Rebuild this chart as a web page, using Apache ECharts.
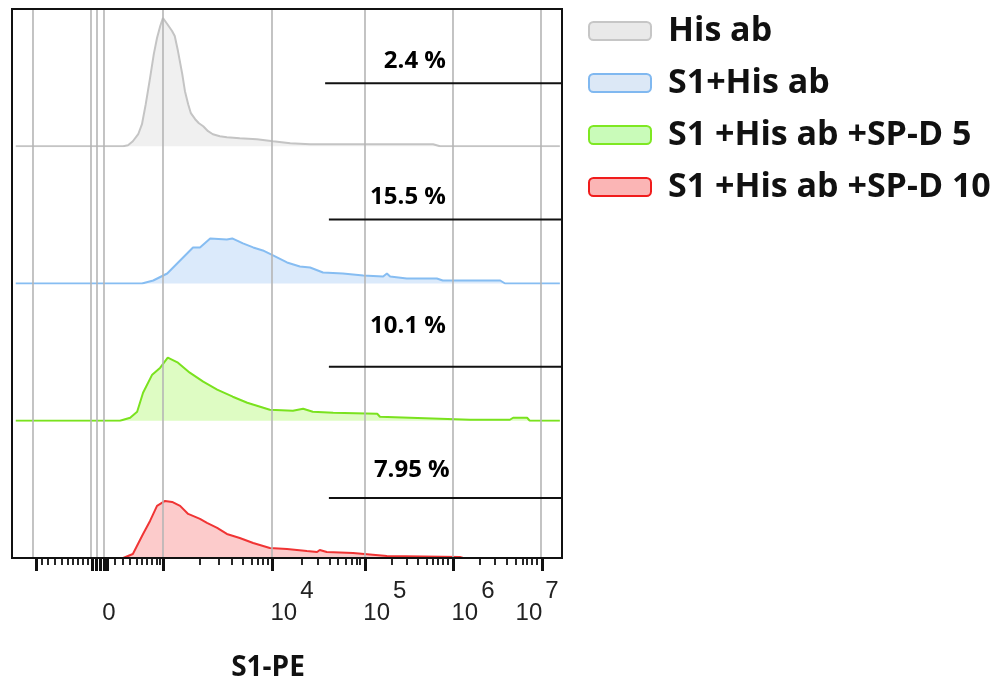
<!DOCTYPE html>
<html>
<head>
<meta charset="utf-8">
<script src="https://cdn.jsdelivr.net/npm/echarts@6/dist/echarts.min.js"></script>
<style>html,body{margin:0;padding:0;background:#fff}#c{width:994px;height:692px}</style>
</head>
<body>
<div id="c"></div>
<script>
// ---------- DATA (x in display channels 0–1024, y in event counts) ----------
const seriesNames = ['His ab', 'S1+His ab', 'S1 +His ab +SP-D 5', 'S1 +His ab +SP-D 10'];

const hisAbX = [7, 207, 216, 225, 235, 242, 249, 257, 264, 270, 276, 281, 289, 298, 303, 309, 317, 322, 328, 333, 341, 348, 356, 365, 374, 387, 400, 424, 456, 486, 518, 555, 685, 784, 797, 1020];
const hisAbY = [0, 0, 1, 5, 12, 22, 42, 68, 92, 108, 120, 128, 122, 115, 110, 95, 72, 55, 42, 33, 27, 23, 20, 15, 12, 10, 9, 8, 7, 5, 3, 2, 2, 2, 0, 0];

const s1X = [7, 242, 263, 289, 313, 337, 350, 369, 400, 410, 430, 449, 467, 486, 512, 536, 555, 579, 616, 654, 691, 698, 704, 735, 791, 802, 909, 918, 1020];
const s1Y = [0, 0, 3, 10, 23, 36, 36, 45, 44, 45, 40, 36, 33, 28, 21, 17, 16, 11, 10, 8, 7, 10, 7, 5, 5, 3, 3, 0, 0];

const spd5X = [7, 201, 220, 233, 244, 261, 276, 290, 309, 331, 356, 382, 411, 438, 462, 480, 523, 542, 560, 598, 680, 685, 741, 853, 927, 933, 959, 964, 1020];
const spd5Y = [0, 0, 3, 9, 28, 46, 53, 63, 58, 48, 39, 31, 24, 18, 14, 11, 10, 12, 9, 8, 7, 4, 3, 1, 1, 3, 3, 0, 0];

const spd10X = [7, 207, 225, 244, 257, 270, 285, 298, 313, 328, 350, 363, 382, 400, 424, 449, 480, 512, 549, 568, 573, 586, 635, 698, 834, 840, 1020];
const spd10Y = [0, 0, 4, 24, 37, 52, 57, 56, 52, 44, 39, 35, 30, 24, 20, 15, 10, 9, 7, 6, 8, 6, 5, 2, 1, 0, 0];

// gates (positive region) per histogram
const gateStart = [583, 590, 590, 590];
const gateEnd = [1024, 1024, 1024, 1024];
const gateLevel = [63, 64, 54, 60];
const gateLabels = ['2.4 %', '15.5 %', '10.1 %', '7.95 %'];
const gateLabelX = [808, 808, 808, 815];
const gateLabelLevel = [85, 86, 94, 88];

// axis ticks (channels)
const gridLineValues = [39, 147, 158, 171, 281, 484, 657, 821, 985];
const majorTickValues = [45, 150, 157, 164, 171, 178, 281, 484, 657, 821, 987];
const minorTickValues = [56, 67, 80, 93, 104, 114, 123, 132, 141,
  192, 207, 220, 233, 242, 251, 261, 270, 276,
  350, 384, 410, 430, 447, 458, 467, 477,
  540, 570, 592, 607, 622, 633, 642, 648,
  707, 735, 756, 773, 784, 793, 802, 812,
  871, 899, 922, 937, 950, 959, 968, 977];
const tickLabelValues = [171, 484, 657, 821, 987];
const tickLabelTexts = ['0', '10^4', '10^5', '10^6', '10^7'];
const axisTitle = 'S1-PE';

// ---------- STYLE ----------
const lineColors = ['#c4c4c4', '#86bdf2', '#7ae21e', '#f03434'];
const areaColors = ['rgba(200,200,200,0.40)', 'rgba(120,178,240,0.38)', 'rgba(135,245,40,0.40)', 'rgba(245,60,60,0.38)'];
const legendFill = ['#e9e9e9', '#dce8f6', '#c9fbb9', '#fbb5b5'];
const legendBorder = ['#c6c6c6', '#80b8f0', '#7ee822', '#f01c1c'];

const xs = [hisAbX, s1X, spd5X, spd10X];
const ys = [hisAbY, s1Y, spd5Y, spd10Y];

const L = 12, R = 432, T = 9, B = 134;
const plotH = 692 - T - B;
const trackH = plotH / 4;
const CH_MAX = 1024, Y_MAX = 137;

const tickFont = {fontSize: 24, fontFamily: 'Liberation Sans', color: '#222', lineHeight: 24, verticalAlign: 'bottom'};

const grids = [{left: L, right: R, top: T, bottom: B, show: true, borderColor: '#111', borderWidth: 2, backgroundColor: 'transparent', z: 10}];
const xAxes = [
  {type: 'value', gridIndex: 0, min: 0, max: CH_MAX, position: 'bottom',
   axisLine: {show: true, onZero: false, lineStyle: {color: '#111', width: 2}},
   axisTick: {show: true, customValues: majorTickValues, length: 13, lineStyle: {color: '#111', width: 3}},
   axisLabel: {show: true, customValues: tickLabelValues, margin: 43, hideOverlap: false,
     formatter: function (v) {
       const i = tickLabelValues.indexOf(v);
       const t = tickLabelTexts[i];
       if (t.indexOf('^') < 0) return '{z|' + t + '}';
       const p = t.split('^');
       if (i === tickLabelValues.length - 1) return '{b|' + p[0] + '}{sl|' + p[1] + '}';
       return '{a|' + p[0] + '}{s|' + p[1] + '}';
     },
     rich: {
       z: Object.assign({}, tickFont, {padding: [0, 0, 0, 10]}),
       a: Object.assign({}, tickFont, {padding: [0, 0, 0, 40]}),
       b: Object.assign({}, tickFont),
       s: Object.assign({}, tickFont, {padding: [0, 0, 22, 3]}),
       sl: Object.assign({}, tickFont, {padding: [0, 10, 22, 3]})
     }},
   splitLine: {show: false},
   name: axisTitle, nameLocation: 'middle', nameGap: 96,
   nameTextStyle: {fontSize: 28, fontWeight: 'bold', fontFamily: 'Open Sans', color: '#111', padding: [0, 38, 0, 0]}},
  {type: 'value', gridIndex: 0, min: 0, max: CH_MAX, position: 'bottom',
   axisLine: {show: false},
   axisTick: {show: true, customValues: minorTickValues, length: 7, lineStyle: {color: '#111', width: 1.8}},
   axisLabel: {show: false}, splitLine: {show: false}}
];
const yAxes = [{type: 'value', gridIndex: 0, min: 0, max: 1, show: false}];

const series = [{
  type: 'line', xAxisIndex: 0, yAxisIndex: 0, data: [], silent: true, symbol: 'none',
  markLine: {silent: true, symbol: 'none', label: {show: false}, animation: false,
    lineStyle: {color: '#b5b5b5', width: 1.6, type: 'solid'},
    data: gridLineValues.map(v => ({xAxis: v}))}
}];

for (let i = 0; i < 4; i++) {
  const xi = xAxes.length, yi = yAxes.length;
  grids.push({left: L, right: R, top: T + i * trackH, height: trackH});
  xAxes.push({type: 'value', gridIndex: i + 1, min: 0, max: CH_MAX, show: false});
  yAxes.push({type: 'value', gridIndex: i + 1, min: 0, max: Y_MAX, show: false});
  series.push({
    name: seriesNames[i], type: 'line', xAxisIndex: xi, yAxisIndex: yi,
    data: xs[i].map((x, k) => [x, ys[i][k]]),
    symbol: 'none', smooth: false, animation: false,
    lineStyle: {color: lineColors[i], width: 2},
    itemStyle: {color: lineColors[i]},
    areaStyle: {color: areaColors[i], origin: 'start'},
    z: 3
  });
  series.push({
    type: 'line', xAxisIndex: xi, yAxisIndex: yi, symbol: 'none', animation: false,
    data: [[gateStart[i], gateLevel[i]], [gateEnd[i], gateLevel[i]]],
    lineStyle: {color: '#111', width: 2}, z: 5
  });
  series.push({
    type: 'scatter', xAxisIndex: xi, yAxisIndex: yi, symbolSize: 0, animation: false,
    data: [[gateLabelX[i], gateLabelLevel[i]]],
    itemStyle: {opacity: 1},
    label: {show: true, position: 'left', distance: 0, formatter: gateLabels[i],
      fontSize: 24, fontWeight: 'bold', fontFamily: 'Open Sans', color: '#000'},
    z: 6
  });
}

const chart = echarts.init(document.getElementById('c'), null, {renderer: 'canvas'});
chart.setOption({
  animation: false,
  backgroundColor: '#fff',
  grid: grids,
  xAxis: xAxes,
  yAxis: yAxes,
  legend: {
    orient: 'vertical', left: 583, top: 9, itemWidth: 62, itemHeight: 18, itemGap: 18,
    icon: 'roundRect',
    textStyle: {fontSize: 34, fontWeight: 'bold', fontFamily: 'Open Sans', color: '#111', lineHeight: 32, padding: [0, 0, 0, 12]},
    data: seriesNames.map((n, i) => ({name: n, itemStyle: {color: legendFill[i], borderColor: legendBorder[i], borderWidth: 2}}))
  },
  series: series
});
</script>
</body>
</html>
